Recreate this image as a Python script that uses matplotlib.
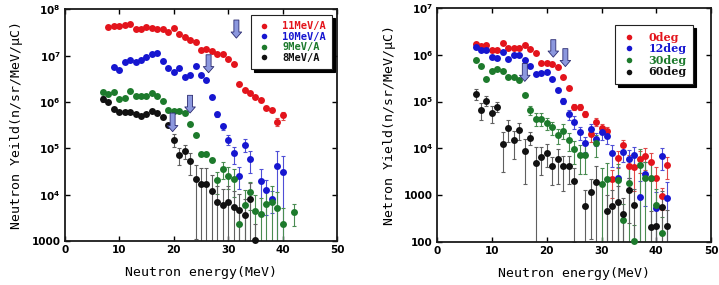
import matplotlib
matplotlib.use('Agg')
import matplotlib.pyplot as plt
from matplotlib.lines import Line2D
from matplotlib.ticker import FuncFormatter, FixedLocator
import numpy as np

# ---- left panel: beam energy dependence ----
e_11 = [8, 9, 10, 11, 12, 13, 14, 15, 16, 17, 18, 19, 20, 21, 22, 23, 24, 25, 26, 27,
        28, 29, 30, 31, 32, 33, 34, 35, 36, 37, 38, 39, 40]
y_11 = [4.1e7, 4.45e7, 4.4e7, 4.5e7, 4.8e7, 3.7e7, 3.8e7, 4.2e7, 3.9e7, 3.8e7, 3.8e7, 3.2e7,
        4.0e7, 3.0e7, 2.5e7, 2.2e7, 1.96e7, 1.35e7, 1.4e7, 1.25e7, 1.1e7, 1.07e7, 8.7e6,
        6.5e6, 2.4e6, 1.8e6, 1.6e6, 1.3e6, 1.1e6, 7.6e5, 6.9e5, 3.8e5, 5.2e5]
r_11 = [0.04, 0.04, 0.04, 0.04, 0.04, 0.04, 0.04, 0.04, 0.04, 0.04, 0.04, 0.04, 0.04, 0.04,
        0.04, 0.04, 0.04, 0.04, 0.04, 0.04, 0.04, 0.04, 0.04, 0.04, 0.04, 0.04, 0.04, 0.04,
        0.04, 0.06, 0.06, 0.2, 0.2]

e_10 = [9, 10, 11, 12, 13, 14, 15, 16, 17, 18, 19, 20, 21, 22, 23, 24, 25, 26, 27, 28,
        29, 30, 31, 32, 33, 34, 36, 37, 38, 39, 40]
y_10 = [5.8e6, 5.0e6, 7.5e6, 7.9e6, 7.2e6, 7.9e6, 9.4e6, 1.1e7, 1.12e7, 7.7e6, 5.4e6, 4.4e6,
        5.4e6, 3.5e6, 3.8e6, 5.9e6, 3.8e6, 3.0e6, 1.26e6, 5.4e5, 3.0e5, 1.55e5, 7.8e4, 2.6e4,
        1.2e5, 6.0e4, 2.0e4, 1.25e4, 8.1e3, 4.1e4, 3.1e4]
r_10 = [0.05, 0.05, 0.05, 0.05, 0.05, 0.05, 0.05, 0.05, 0.05, 0.05, 0.05, 0.05, 0.05, 0.05,
        0.05, 0.05, 0.05, 0.05, 0.08, 0.12, 0.15, 0.25, 0.4, 0.5, 0.3, 0.5, 0.8, 0.7, 0.5,
        1.2, 1.2]

e_9 = [7, 8, 9, 10, 11, 12, 13, 14, 15, 16, 17, 18, 19, 20, 21, 22, 23, 24, 25, 26, 27,
       28, 29, 30, 31, 32, 33, 34, 35, 36, 37, 38, 39, 40, 42]
y_9 = [1.66e6, 1.5e6, 1.66e6, 1.15e6, 1.25e6, 1.75e6, 1.38e6, 1.38e6, 1.38e6, 1.6e6, 1.35e6,
       1.03e6, 6.7e5, 6.4e5, 6.4e5, 5.7e5, 3.4e5, 1.95e5, 7.6e4, 7.6e4, 5.6e4, 2.05e4, 3.6e4,
       2.6e4, 2.2e4, 2.3e3, 6.1e3, 1.16e4, 4.4e3, 3.9e3, 6.2e3, 7.1e3, 5.1e3, 2.3e3, 4.3e3]
r_9 = [0.05, 0.05, 0.05, 0.05, 0.05, 0.05, 0.05, 0.05, 0.05, 0.05, 0.05, 0.05, 0.05, 0.05,
       0.05, 0.05, 0.05, 0.05, 0.1, 0.1, 0.1, 0.5, 0.4, 0.5, 0.6, 1.2, 1.1, 0.6, 1.2, 1.2,
       1.2, 1.2, 1.2, 1.2, 0.5]

e_8 = [7, 8, 9, 10, 11, 12, 13, 14, 15, 16, 17, 18, 19, 20, 21, 22, 23, 24, 25, 26, 27,
       28, 29, 30, 31, 32, 33, 34, 35]
y_8 = [1.17e6, 1.0e6, 7.2e5, 6.2e5, 6.0e5, 6.0e5, 5.5e5, 5.0e5, 5.5e5, 6.4e5, 5.8e5, 4.7e5,
       3.2e5, 1.55e5, 7.3e4, 8.9e4, 5.3e4, 2.2e4, 1.75e4, 1.75e4, 1.2e4, 7.1e3, 6.1e3, 7.1e3,
       5.4e3, 4.7e3, 3.6e3, 8.2e3, 1.05e3]
r_8 = [0.15, 0.08, 0.08, 0.08, 0.08, 0.08, 0.08, 0.08, 0.08, 0.08, 0.08, 0.08, 0.08, 0.3,
       0.4, 0.35, 0.5, 0.95, 1.2, 1.2, 1.2, 1.2, 1.2, 1.2, 1.2, 1.2, 1.2, 1.2, 1.2]

left_labels = ['11MeV/A', '10MeV/A', '9MeV/A', '8MeV/A']
left_arrow_x = [31.5, 26.4, 23.0, 19.8]
left_arrow_top = [5.9e7, 1.05e7, 1.4e6, 5.8e5]
left_arrow_tip = [2.4e7, 4.3e6, 5.8e5, 2.3e5]

# ---- right panel: angle dependence ----
e_0 = [7, 8, 9, 10, 11, 12, 13, 14, 15, 16, 17, 18, 19, 20, 21, 22, 23, 24, 25, 26, 27,
       28, 29, 30, 31, 32, 33, 34, 35, 36, 37, 38, 39, 40, 41, 42]
y_0 = [1.7e6, 1.55e6, 1.64e6, 1.24e6, 1.26e6, 1.8e6, 1.43e6, 1.43e6, 1.37e6, 1.58e6, 1.32e6,
       1.07e6, 6.8e5, 6.6e5, 6.5e5, 5.4e5, 3.4e5, 1.94e5, 7.6e4, 7.8e4, 5.5e4, 2.0e4, 3.7e4,
       2.7e4, 2.3e4, 2.2e3, 6.3e3, 1.17e4, 4.2e3, 4.0e3, 6.0e3, 6.9e3, 5.0e3, 2.3e3, 9.5e2,
       4.4e3]
r_0 = [0.05, 0.05, 0.05, 0.05, 0.05, 0.05, 0.05, 0.05, 0.05, 0.05, 0.05, 0.05, 0.05, 0.05,
       0.05, 0.05, 0.05, 0.05, 0.15, 0.15, 0.15, 0.3, 0.2, 0.25, 0.25, 0.6, 0.4, 0.3, 0.7,
       0.7, 0.5, 0.5, 0.6, 0.7, 0.5, 0.5]

e_12 = [7, 8, 9, 10, 11, 12, 13, 14, 15, 16, 17, 18, 19, 20, 21, 22, 23, 24, 25, 26, 27,
        28, 29, 30, 31, 32, 33, 34, 35, 36, 37, 38, 40, 41, 42]
y_12 = [1.45e6, 1.24e6, 1.28e6, 9.1e5, 8.5e5, 1.12e6, 8.2e5, 1.0e6, 1.0e6, 7.7e5, 5.8e5,
        3.9e5, 4.0e5, 4.2e5, 3.1e5, 1.74e5, 1.03e5, 5.3e4, 3.7e4, 2.2e4, 1.3e4, 2.6e4, 1.6e4,
        2.2e4, 1.8e4, 8.0e3, 2.3e3, 8.5e3, 5.8e3, 7.1e3, 9.2e2, 2.9e3, 5.2e2, 6.9e3, 8.5e2]
r_12 = [0.05, 0.05, 0.05, 0.05, 0.05, 0.05, 0.05, 0.05, 0.05, 0.05, 0.05, 0.05, 0.05, 0.05,
        0.05, 0.05, 0.15, 0.25, 0.3, 0.3, 0.35, 0.3, 0.3, 0.3, 0.3, 0.5, 0.7, 0.4, 0.6, 0.5,
        1.2, 0.8, 1.2, 0.5, 1.2]

e_30 = [7, 8, 9, 10, 11, 12, 13, 14, 15, 16, 17, 18, 19, 20, 21, 22, 23, 24, 25, 26, 27,
        29, 30, 31, 33, 34, 35, 36, 37, 38, 39, 40, 41]
y_30 = [7.7e5, 5.7e5, 3.0e5, 4.4e5, 4.9e5, 4.4e5, 3.3e5, 3.4e5, 2.9e5, 1.38e5, 6.6e4, 4.3e4,
        4.3e4, 3.5e4, 2.8e4, 1.9e4, 2.4e4, 1.5e4, 9.5e3, 7.2e3, 7.2e3, 1.3e4, 1.7e3, 2.2e3,
        2.1e3, 300, 1.8e3, 105, 4.4e3, 2.3e3, 2.3e3, 620, 155]
r_30 = [0.05, 0.05, 0.05, 0.05, 0.05, 0.05, 0.05, 0.05, 0.05, 0.05, 0.2, 0.3, 0.3, 0.3, 0.3,
        0.35, 0.35, 0.4, 0.5, 0.6, 0.6, 0.5, 1.2, 1.2, 1.2, 1.2, 1.2, 1.2, 1.2, 1.2, 1.2,
        1.2, 1.2]

e_60 = [7, 8, 9, 10, 11, 12, 13, 14, 15, 16, 17, 18, 19, 20, 21, 22, 23, 24, 25, 27, 28,
        29, 31, 32, 33, 34, 35, 36, 39, 40, 41, 42]
y_60 = [1.45e5, 6.6e4, 1.05e5, 5.8e4, 7.8e4, 1.25e4, 2.7e4, 1.5e4, 2.5e4, 8.7e3, 1.7e4,
        4.8e3, 6.6e3, 8.1e3, 4.1e3, 5.8e3, 4.1e3, 4.3e3, 2.0e3, 590, 1.15e3, 1.9e3, 460, 590,
        710, 390, 1.3e3, 620, 210, 215, 560, 215]
r_60 = [0.25, 0.4, 0.25, 0.4, 0.25, 0.75, 0.5, 0.6, 0.4, 0.8, 0.3, 1.2, 0.6, 0.5, 0.6, 0.7,
        0.7, 0.6, 0.95, 1.2, 0.9, 1.2, 1.2, 1.2, 1.2, 1.2, 0.8, 1.2, 1.2, 1.2, 1.2, 1.2]

right_labels = ['0deg', '12deg', '30deg', '60deg']
right_arrow_x = [21.2, 23.4, 16.0]
right_arrow_top = [2.1e6, 1.35e6, 6.5e5]
right_arrow_tip = [8.9e5, 5.6e5, 2.7e5]

colors = ['#e3141c', '#1616d0', '#1d7a2c', '#111111']
err_colors = ['#e04848', '#4f4fd6', '#4a8c52', '#606060']


def ytick_fmt(v, pos):
    if v < 5000:
        return '%d' % round(v)
    return r'$\mathbf{10^{%d}}$' % round(np.log10(v))


def draw_panel(ax, series, ylim, arrows, labels, legend_anchor, legend_font):
    for (e, y, r), c, ec in zip(series, colors, err_colors):
        e = np.array(e)
        y = np.array(y)
        ax.errorbar(e, y, yerr=y * np.array(r), fmt='none', ecolor=ec,
                    elinewidth=0.8, capsize=1.6, capthick=0.8, zorder=2)
        ax.plot(e, y, 'o', color=c, markersize=5, markeredgewidth=0, zorder=3,
                clip_on=False)
    for x, top, tip in zip(*arrows):
        ax.annotate('', xy=(x, tip), xytext=(x, top),
                    arrowprops=dict(arrowstyle='simple,head_length=0.55,head_width=0.95,tail_width=0.45',
                                    fc='#8c98de', ec='#2a2a70', lw=0.6,
                                    shrinkA=0, shrinkB=0, mutation_scale=8),
                    zorder=4)
    ax.set_yscale('log')
    ax.set_xlim(0, 50)
    ax.set_ylim(*ylim)
    ax.set_xticks([0, 10, 20, 30, 40, 50])
    decades = 10.0 ** np.arange(np.log10(ylim[0]), np.log10(ylim[1]) + 1)
    ax.yaxis.set_major_locator(FixedLocator(decades))
    ax.yaxis.set_minor_locator(FixedLocator([]))
    ax.yaxis.set_major_formatter(FuncFormatter(ytick_fmt))
    ax.tick_params(direction='in', top=True, right=True, length=3.5, width=1,
                   labelsize=7.5, pad=3)
    for lab in ax.get_xticklabels() + ax.get_yticklabels():
        lab.set_fontweight('bold')
    for s in ax.spines.values():
        s.set_linewidth(1.3)
        s.set_color('#1a1a1a')
    ax.set_xlabel('Neutron energy(MeV)', family='DejaVu Sans Mono', fontsize=9.5,
                  labelpad=8)

    handles = [Line2D([], [], marker='o', ls='none', color=c, markersize=4,
                      markeredgewidth=0) for c in colors]
    leg = ax.legend(handles, labels, loc='upper left', bbox_to_anchor=legend_anchor,
                    borderaxespad=0, frameon=True, fancybox=False, edgecolor='#222222',
                    framealpha=1, shadow={'color': 'black', 'alpha': 1},
                    prop=legend_font, handlelength=1.2, handletextpad=1.2,
                    labelspacing=0.05, borderpad=0.6)
    leg.get_frame().set_linewidth(0.8)
    for t, c in zip(leg.get_texts(), colors):
        t.set_color(c)


fig = plt.figure(figsize=(7.19, 2.85), dpi=100)
ax1 = fig.add_axes([0.090, 0.154, 0.379, 0.813])
ax2 = fig.add_axes([0.608, 0.151, 0.381, 0.821])

draw_panel(ax1, [(e_11, y_11, r_11), (e_10, y_10, r_10), (e_9, y_9, r_9), (e_8, y_8, r_8)],
           (1000, 1e8), (left_arrow_x, left_arrow_top, left_arrow_tip), left_labels,
           (0.684, 0.976), dict(family='DejaVu Sans Mono', weight='bold', size=7.5))
ax1.set_ylabel('Neutron Yeild(n/sr/MeV/\u03bcC)', family='DejaVu Sans Mono', fontsize=9.5,
               labelpad=6)

draw_panel(ax2, [(e_0, y_0, r_0), (e_12, y_12, r_12), (e_30, y_30, r_30), (e_60, y_60, r_60)],
           (100, 1e7), (right_arrow_x, right_arrow_top, right_arrow_tip), right_labels,
           (0.65, 0.927), dict(family='DejaVu Serif', weight='bold', size=8))
ax2.set_ylabel('Netron Yield(n/sr/MeV/\u03bcC)', family='DejaVu Sans Mono', fontsize=9.5,
               labelpad=6)

fig.savefig('out.png', dpi=100)
